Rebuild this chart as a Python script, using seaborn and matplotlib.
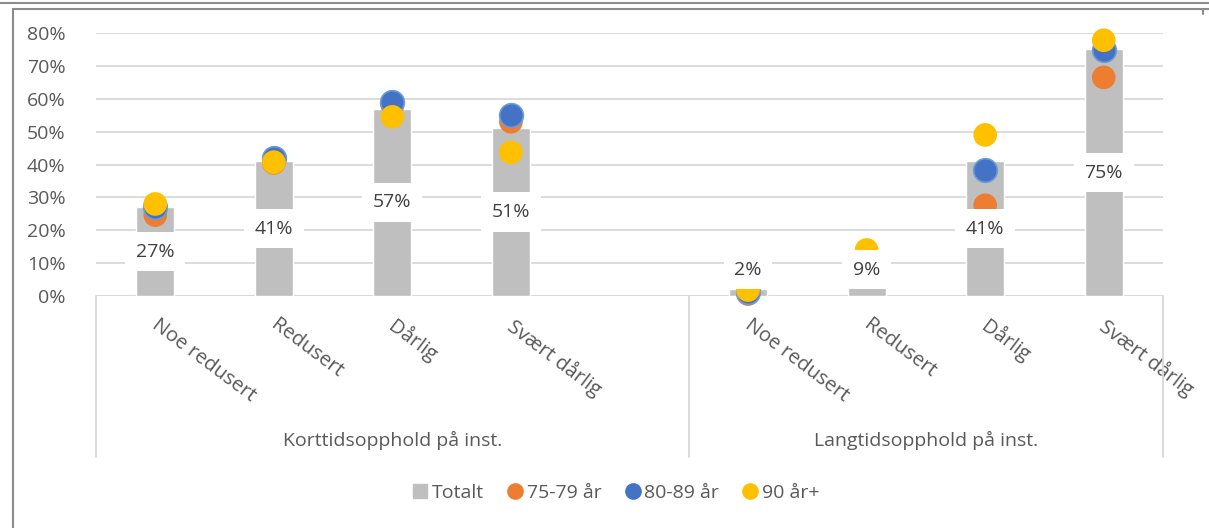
import numpy as np
import pandas as pd
import matplotlib.pyplot as plt
import seaborn as sns
from matplotlib.lines import Line2D
from matplotlib.transforms import ScaledTranslation

# data (percent)
groups = ['Korttidsopphold på inst.', 'Langtidsopphold på inst.']
cats = ['Noe redusert', 'Redusert', 'Dårlig', 'Svært dårlig']
totalt = [27, 41, 57, 51, 2, 9, 41, 75]
age_75_79 = [24.6, 40.5, 58, 53, 0.6, 8, 27.6, 66.5]
age_80_89 = [27, 42, 59, 55, 1.2, 9, 38.3, 74.8]
age_90 = [28, 40.7, 54.5, 43.7, 1.8, 14, 49, 77.8]
series = ['75-79 år', '80-89 år', '90 år+']
colors = {'Totalt': '#bfbfbf', '75-79 år': '#ed7d31', '80-89 år': '#4472c4', '90 år+': '#ffc000'}

# slots: 4 categories + one empty slot, then 4 categories
slots = [0, 1, 2, 3, 5, 6, 7, 8]

sns.set_theme(style='white')
plt.rcParams['font.family'] = ['Open Sans', 'DejaVu Sans']
txt = '#595959'
fs = 14

fig = plt.figure(figsize=(12.09, 5.28), dpi=100)
ax = fig.add_axes([96 / 1209, 1 - 296 / 528, (1163 - 96) / 1209, (296 - 33) / 528])

df = pd.DataFrame({'slot': slots, 'Totalt': totalt})
sns.barplot(data=df, x='slot', y='Totalt', native_scale=True, width=0.32,
            color=colors['Totalt'], saturation=1, ax=ax, zorder=2)

dots = pd.DataFrame({
    'slot': slots * 3,
    'value': age_75_79 + age_80_89 + age_90,
    'serie': [s for s in series for _ in slots],
})
for s in series:
    sns.scatterplot(data=dots[dots.serie == s], x='slot', y='value', color=colors[s],
                    s=290, edgecolor='#6b9bd8' if s == '80-89 år' else 'none',
                    linewidth=1.2, ax=ax, zorder=3, clip_on=False, legend=False)

# data labels in white boxes
for x, v in zip(slots, totalt):
    ax.text(x, max(v / 2, 8), f'{v}%', ha='center', va='center', fontsize=fs, color='#404040',
            bbox=dict(boxstyle='square,pad=0.55', fc='white', ec='none'), zorder=4)

ax.set_xlim(-0.5, 8.5)
ax.set_ylim(0, 80)
ax.set_yticks(range(0, 81, 10))
ax.set_yticklabels([f'{t}%' for t in range(0, 81, 10)], fontsize=fs, color=txt)
ax.tick_params(axis='y', length=0, pad=22)
for t in range(10, 81, 10):
    ax.axhline(t, color='#d9d9d9', lw=1.3, zorder=0)
ax.axhline(0, color='#d9d9d9', lw=1.5, zorder=1)
sns.despine(ax=ax, left=True, bottom=True, top=True, right=True)

ax.set_xticks(slots)
ax.set_xticklabels(cats + cats, rotation=-37, ha='left', va='top', rotation_mode='anchor',
                   fontsize=14.5, color=txt)
ax.tick_params(axis='x', length=0, pad=14)
shift = ScaledTranslation(5 / 100, 0, fig.dpi_scale_trans)
for lab in ax.get_xticklabels():
    lab.set_transform(lab.get_transform() + shift)
ax.set_xlabel('')
ax.set_ylabel('')

# group separators and group labels
for xs in [-0.5, 4.5, 8.5]:
    ax.plot([xs, xs], [0, -49], color='#d9d9d9', lw=1.3, clip_on=False, zorder=1)
ax.text(2.0, -44, groups[0], ha='center', va='center', fontsize=fs, color=txt)
ax.text(6.5, -44, groups[1], ha='center', va='center', fontsize=fs, color=txt)

# legend
handles = [Line2D([], [], marker='s', ls='none', color=colors['Totalt'], markersize=9.5)]
handles += [Line2D([], [], marker='o', ls='none', color=colors[s], markersize=11) for s in series]
fig.legend(handles, ['Totalt'] + series, loc='center', bbox_to_anchor=(0.508, 1 - 493 / 528),
           ncol=4, frameon=False, fontsize=fs, handletextpad=0.0, columnspacing=1.0,
           handlelength=1.2, labelcolor=txt)

# outer frame pieces
fig.add_artist(Line2D([0, 1], [1 - 3 / 528, 1 - 3 / 528], color='#8c8c8c', lw=1.5))
fig.add_artist(Line2D([13 / 1209, 1], [1 - 9 / 528, 1 - 9 / 528], color='#8c8c8c', lw=1.5))
fig.add_artist(Line2D([13 / 1209, 13 / 1209], [0, 1 - 9 / 528], color='#8c8c8c', lw=1.5))
fig.add_artist(Line2D([1203 / 1209, 1203 / 1209], [1 - 9 / 528, 1 - 14 / 528], color='#8c8c8c', lw=1.5))

fig.savefig('out.png', dpi=100)
